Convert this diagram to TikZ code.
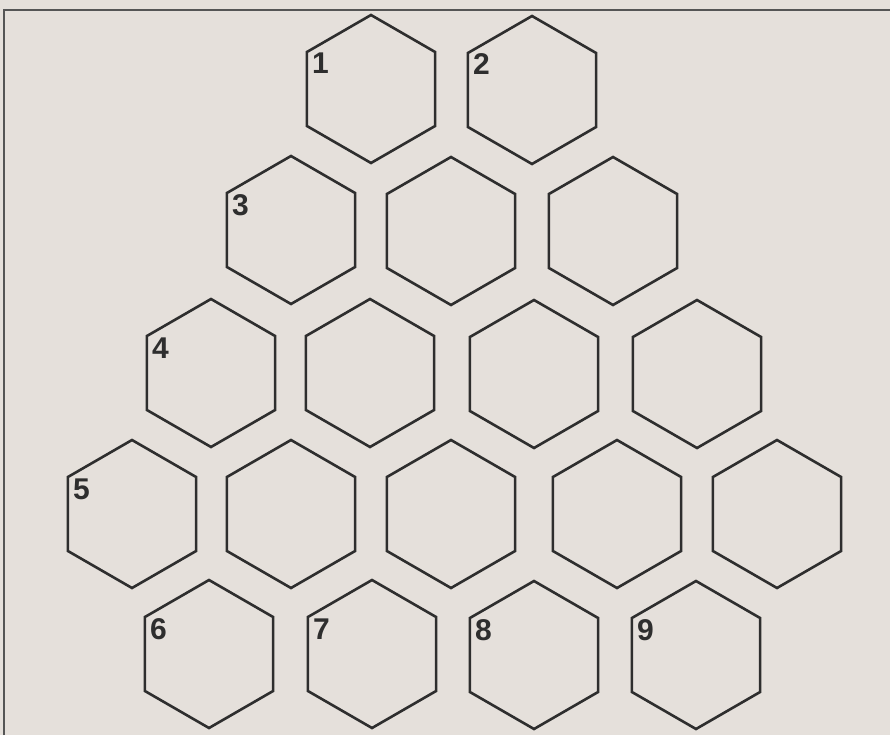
\documentclass[tikz,border=0pt]{standalone}
\usepackage{fontspec}
\setmainfont{Liberation Sans}
\usetikzlibrary{shapes.geometric}
\definecolor{paper}{HTML}{E5E0DB}
\definecolor{ink}{HTML}{2E2E2E}
\definecolor{framegrey}{HTML}{555555}
\begin{document}
\begin{tikzpicture}[x=1pt,y=-1pt,
  hexcell/.style={regular polygon, regular polygon sides=6, shape border rotate=30,
    minimum size=148pt, inner sep=0pt, outer sep=0pt, draw=ink, line width=2.6pt, line join=miter},
  lab/.style={inner sep=0pt, anchor=base west, text=ink, font=\fontsize{30}{30}\selectfont\bfseries},
  frameline/.style={draw=framegrey, line width=1.8pt}]
\fill[paper] (0,0) rectangle (890,735);
\useasboundingbox (0,0) rectangle (890,735);
\draw[frameline] (4,735) -- (4,10) -- (890,10);
% row 1
\node[hexcell] (h1) at (371,89) {};
\node[hexcell] (h2) at (532,90) {};
% row 2
\node[hexcell] (h3) at (291,230) {};
\node[hexcell] (h4) at (451,231) {};
\node[hexcell] (h5) at (613,231) {};
% row 3
\node[hexcell] (h6) at (211,373) {};
\node[hexcell] (h7) at (370,373) {};
\node[hexcell] (h8) at (534,374) {};
\node[hexcell] (h9) at (697,374) {};
% row 4
\node[hexcell] (h10) at (132,514) {};
\node[hexcell] (h11) at (291,514) {};
\node[hexcell] (h12) at (451,514) {};
\node[hexcell] (h13) at (617,514) {};
\node[hexcell] (h14) at (777,514) {};
% row 5
\node[hexcell] (h15) at (209,654) {};
\node[hexcell] (h16) at (372,654) {};
\node[hexcell] (h17) at (534,655) {};
\node[hexcell] (h18) at (696,655) {};
% labels
\node[lab] (l1) at ([shift={(-59,-15)}]h1.center) {1};
\node[lab] (l2) at ([shift={(-59,-15)}]h2.center) {2};
\node[lab] (l3) at ([shift={(-59,-15)}]h3.center) {3};
\node[lab] (l4) at ([shift={(-59,-15)}]h6.center) {4};
\node[lab] (l5) at ([shift={(-59,-15)}]h10.center) {5};
\node[lab] (l6) at ([shift={(-59,-15)}]h15.center) {6};
\node[lab] (l7) at ([shift={(-59,-15)}]h16.center) {7};
\node[lab] (l8) at ([shift={(-59,-15)}]h17.center) {8};
\node[lab] (l9) at ([shift={(-59,-15)}]h18.center) {9};
\end{tikzpicture}
\end{document}
